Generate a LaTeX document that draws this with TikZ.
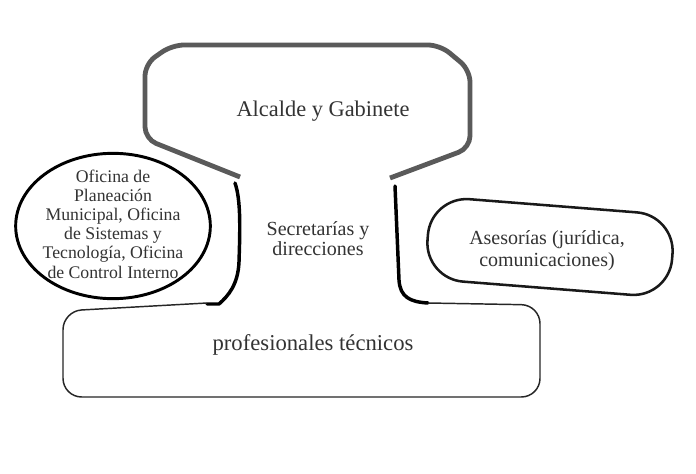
\documentclass[tikz,border=0pt]{standalone}
\usepackage{fontspec}
\setmainfont{Liberation Serif}
\usetikzlibrary{shapes.geometric}
\definecolor{txt}{HTML}{333333}
\definecolor{topgray}{HTML}{5A5A5A}
\begin{document}
\begin{tikzpicture}[x=0.75pt,y=-0.75pt,
  lbl/.style={text=txt,align=center,inner sep=0pt},
  neck/.style={line width=2.6pt,black,line cap=round,line join=round},
  thinbox/.style={line width=1.1pt,black!85,rounded corners=14pt}]
\useasboundingbox[fill=white] (0,0) rectangle (696,474);
% top shape
\draw[line width=3.6pt,topgray,rounded corners=9pt,line join=round]
  (240,177) -- (145,139) -- (145,64) -- (172,45) -- (440,45) -- (470,70) -- (470,148) -- (390,178);
\node[lbl,font=\fontsize{16.8}{19}\selectfont] (alc) at (323,111) {Alcalde y Gabinete};
% necks
\draw[neck] (235,183) .. controls (241,200) and (240,230) .. (239,262)
  .. controls (238,285) and (228,296) .. (219,304) -- (207,304);
\draw[neck] (395,186) -- (399,280) .. controls (400,297) and (410,302) .. (428,303);
% bottom shape
\draw[thinbox] (207,303) -- (63,311) -- (63,397) -- (540,397) -- (540,305) -- (428,303);
\node[lbl,font=\fontsize{17}{20}\selectfont] (prof) at (313,345) {profesionales técnicos};
% middle text
\node[lbl,font=\fontsize{15}{15}\selectfont] (sec) at (318,239) {Secretarías y\\direcciones};
% ellipse
\node[draw,ellipse,line width=2.2pt,black,minimum width=146pt,minimum height=109pt,inner sep=0pt] (ofi) at (113,226) {};
\node[lbl,font=\fontsize{13.3}{14.4}\selectfont] (ofitxt) at (113,224)
  {Oficina de\\Planeación\\Municipal, Oficina\\de Sistemas y\\Tecnología, Oficina\\de Control Interno};
% asesorias
\node[draw,line width=1.9pt,black!90,rounded corners=29pt,minimum width=184pt,minimum height=62pt,rotate=-4.5] (asesbox) at (550,247) {};
\node[lbl,font=\fontsize{15}{16.5}\selectfont] (ases) at (547,251) {Asesorías (jurídica,\\comunicaciones)};
\end{tikzpicture}
\end{document}
